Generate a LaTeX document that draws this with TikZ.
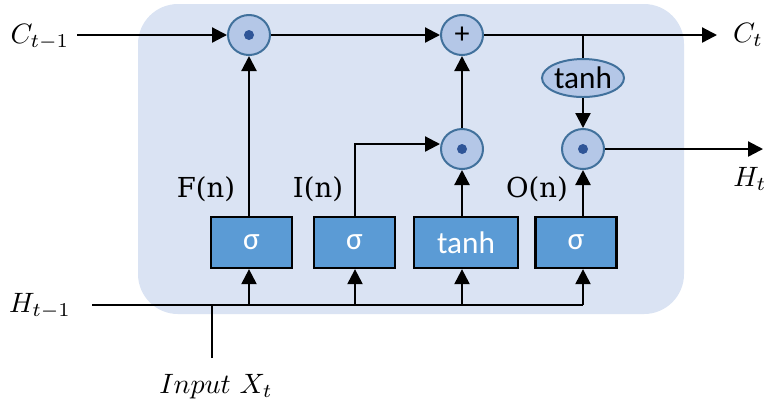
\documentclass[tikz,border=0pt]{standalone}
\usepackage{fontspec}
\setmainfont{DejaVu Serif}
\newfontfamily\calib{Carlito}
\usetikzlibrary{arrows.meta,shapes.geometric}
\definecolor{bgblue}{HTML}{DAE3F3}
\definecolor{circfill}{HTML}{B4C7E7}
\definecolor{circline}{HTML}{41719C}
\definecolor{dotblue}{HTML}{2F5597}
\definecolor{boxblue}{HTML}{5B9BD5}
\begin{document}
\begin{tikzpicture}[x=0.4pt,y=-0.4pt,
  conn/.style={line width=0.9pt},
  arr/.style={conn,-{Triangle[length=6pt,width=6pt]}},
  mult/.style={ellipse, draw=circline, line width=0.8pt, fill=circfill,
    minimum width=16.8pt, minimum height=16pt, inner sep=0pt},
  gate/.style={draw=black, line width=0.9pt, fill=boxblue, text=white,
    minimum width=32.4pt, minimum height=20.4pt, inner sep=0pt,
    font=\calib\fontsize{12.5}{14}\selectfont},
  lbl/.style={font=\fontsize{11}{13}\selectfont, anchor=base, inner sep=0pt},
  mlbl/.style={anchor=base, inner sep=0pt, scale=1.12}]
\useasboundingbox (0,0) rectangle (764,403);
\fill[bgblue, rounded corners=16pt] (138,4) rectangle (684,314);

% multiplication / addition nodes
\node[mult, font=\calib\fontsize{12}{14}\selectfont] (add) at (462,35) {+};
\node[mult] (m1) at (249,35) {};
\node[mult] (m2) at (462,149) {};
\node[mult] (m3) at (583,149) {};
\fill[dotblue] (m1) circle (2pt);
\fill[dotblue] (m2) circle (2pt);
\fill[dotblue] (m3) circle (2pt);
\node[ellipse, draw=circline, line width=0.8pt, fill=circfill,
  minimum width=32.8pt, minimum height=15.2pt, inner sep=0pt,
  font=\calib\fontsize{12.5}{14}\selectfont] (th) at (583,78) {tanh};

% gates
\node[gate] (g1) at (251.5,242.5) {σ};
\node[gate] (g2) at (354.5,242.5) {σ};
\node[gate, minimum width=41.6pt] (g3) at (466,242.5) {tanh};
\node[gate] (g4) at (576,242.5) {σ};

% labels
\node[mlbl] (cprev) at (40,43) {$C_{t-1}$};
\node[mlbl] (hprev) at (40,312) {$H_{t-1}$};
\node[mlbl] (cnext) at (748,42) {$C_t$};
\node[mlbl] (hnext) at (750,186) {$H_t$};
\node[mlbl] (inp) at (216,393) {$Input\ X_t$};
\node[lbl] (fl) at (206,197) {F(n)};
\node[lbl] (il) at (318,197) {I(n)};
\node[lbl] (ol) at (537,197) {O(n)};

% coordinates
\coordinate (cin) at (77,35);
\coordinate (cout) at (717,35);
\coordinate (br) at (583,35);
\coordinate (hout) at (763,149);
\coordinate (hin) at (92,305);
\coordinate (xin) at (212,305);
\coordinate (xbot) at (212,358);
\coordinate (ibend) at (355,144);

% cell state
\draw[arr] (cin) -- (m1.west);
\draw[arr] (m1.east) -- (add.west);
\draw[arr] (add.east) -- (cout);
\draw[conn] (br) -- (th.north);
\draw[arr] (th.south) -- (m3.north);
\draw[arr] (m3.east) -- (hout);

% gates to ops
\draw[arr] (g1.north -| m1) -- (m1.south);
\draw[arr] (g2.north -| ibend) -- (ibend) -- (m2.west |- ibend);
\draw[arr] (g3.north -| m2) -- (m2.south);
\draw[arr] (m2.north) -- (add.south);
\draw[arr] (g4.north -| m3) -- (m3.south);

% input bus
\draw[conn] (hin) -- (hin -| m3);
\draw[conn] (xbot) -- (xin);
\draw[arr] (hin -| m1) -- (g1.south -| m1);
\draw[arr] (hin -| ibend) -- (g2.south -| ibend);
\draw[arr] (hin -| m2) -- (g3.south -| m2);
\draw[arr] (hin -| m3) -- (g4.south -| m3);
\end{tikzpicture}
\end{document}
